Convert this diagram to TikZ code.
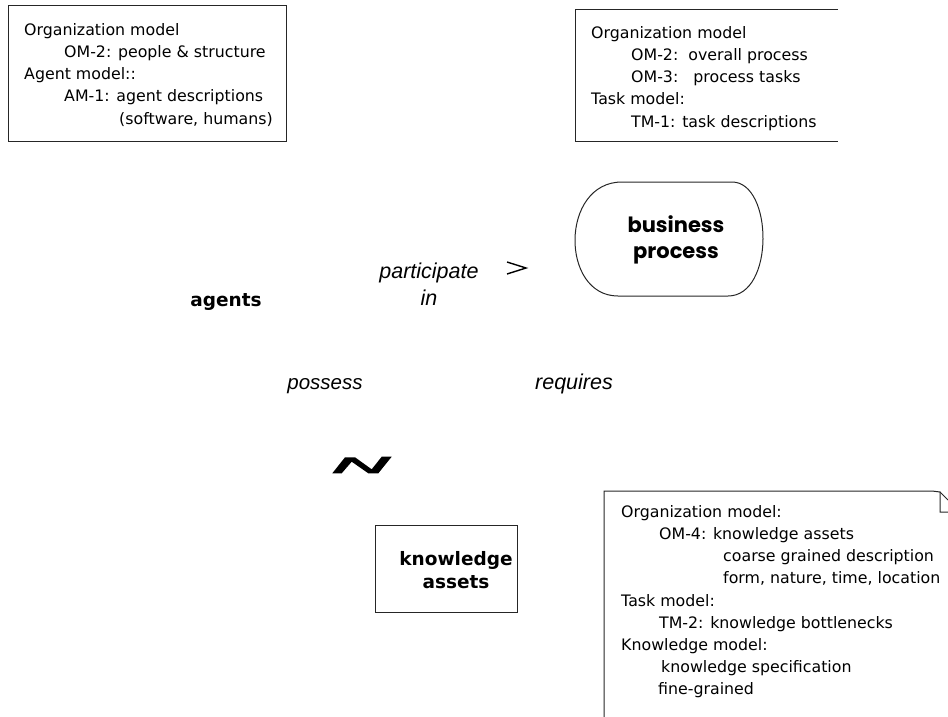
\documentclass[tikz,border=0pt]{standalone}
\usepackage{fontspec}
\setmainfont{DejaVu Sans}
\newfontfamily\labelfont{Liberation Sans}
\newfontfamily\headfont{Poppins}
\begin{document}
\begin{tikzpicture}[x=1pt,y=-1pt,
  frame/.style={draw=black!85, line width=1pt},
  notes/.style={anchor=north west, inner sep=0pt, align=left,
    font=\fontsize{15.8}{22.2}\selectfont},
  rel/.style={font=\labelfont\itshape\fontsize{21.5}{27}\selectfont,
    inner sep=0pt, align=center},
  concept/.style={font=\bfseries\fontsize{18.5}{23}\selectfont,
    inner sep=0pt, align=center}]
\useasboundingbox (0,0) rectangle (948,717);

% model references for the agents
\draw[frame] (8,6) rectangle (286,141);
\node[notes] (agentnotes) at (24,23) {Organization model\\
  \hspace*{40pt}OM-2: people \& structure\\
  Agent model::\\
  \hspace*{40pt}AM-1: agent descriptions\\
  \hspace*{95pt}(software, humans)};

% model references for the business process
\draw[frame] (838,10) -- (575,10) -- (575,141) -- (838,141);
\node[notes] (processnotes) at (591,26) {Organization model\\
  \hspace*{40pt}OM-2:\ \ overall process\\
  \hspace*{40pt}OM-3:\ \ \ process tasks\\
  Task model:\\
  \hspace*{40pt}TM-1: task descriptions};

% model references for the knowledge assets (note with folded corner)
\draw[frame] (604,717) -- (604,491) -- (932,491) -- (940,492) -- (940,512) -- (948,512);
\draw[frame] (940,492) -- (948,500);
\node[notes] (knowledgenotes) at (621,505) {Organization model:\\
  \hspace*{38pt}OM-4: knowledge assets\\
  \hspace*{102pt}coarse grained description\\
  \hspace*{102pt}form, nature, time, location\\
  Task model:\\
  \hspace*{38pt}TM-2: knowledge bottlenecks\\
  Knowledge model:\\
  \hspace*{40pt}knowledge specification\\
  \hspace*{37pt}fine-grained};

% business process (stadium)
\draw[frame] (622,182) -- (732,182) .. controls (773,182) and (775,296) .. (728,296)
  -- (618,296) .. controls (560,296) and (560,182) .. (622,182);
\node[font=\headfont\bfseries\fontsize{21}{26}\selectfont, align=center, inner sep=0pt]
  (bp) at (676,240) {business\\process};

% agents
\node[concept, anchor=base] (ag) at (226,306) {agents};

% knowledge assets
\draw[frame] (375,525) rectangle (517,612);
\node[concept] (ka) at (456,570) {knowledge\\assets};

% relation labels
\node[rel] (part) at (429,284) {participate\\in};
\node[rel, anchor=base, font=\labelfont\itshape\fontsize{20.5}{27}\selectfont]
  (poss) at (325,389) {possess};
\node[rel, anchor=base] (req) at (574,389) {requires};

% stray arrow heads
\draw[line width=1.4pt, line join=miter] (507,262) -- (526,268) -- (507,274);
\fill (332.3,473.3) -- (345,457.3) -- (355,457.3) -- (371.7,469.3) -- (381.7,456.7)
  -- (391.7,456.7) -- (378.3,473.3) -- (368.3,473.3) -- (351.7,461.7) -- (341.7,473.3) -- cycle;
\end{tikzpicture}
\end{document}
